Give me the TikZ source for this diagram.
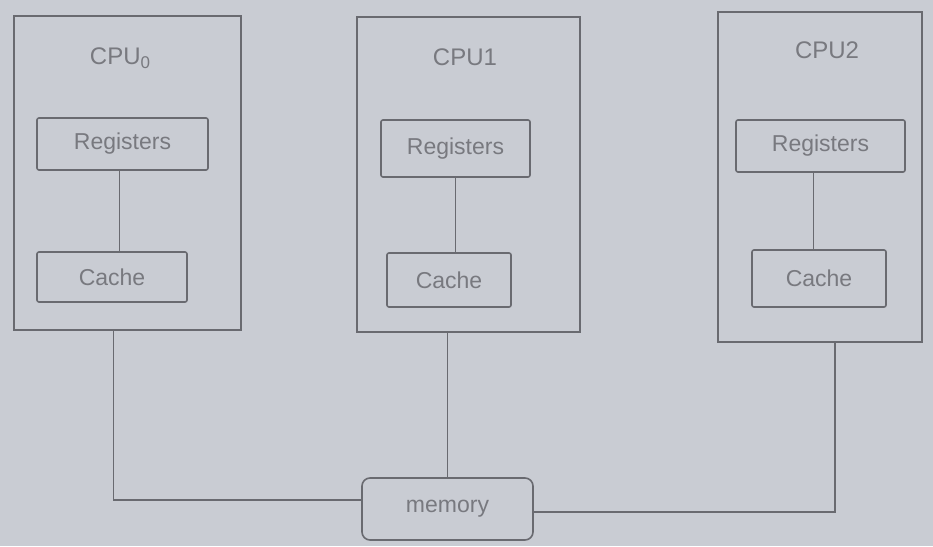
\documentclass[tikz,border=0pt]{standalone}
\usepackage{fontspec}
\setmainfont{Liberation Sans}
\definecolor{paper}{RGB}{201,204,211}
\definecolor{pencil}{RGB}{105,106,112}
\definecolor{ptext}{RGB}{120,121,127}
\begin{document}
\begin{tikzpicture}[x=1pt,y=-1pt,
  box/.style={draw=pencil,line width=1.6pt,rectangle,inner sep=0pt},
  cpubox/.style={box},
  inbox/.style={box,rounded corners=2pt,text=ptext,font=\fontsize{23}{27}\selectfont},
  lbl/.style={text=ptext,font=\fontsize{24}{28}\selectfont},
  wire/.style={draw=pencil,line width=1.4pt}]
\fill[paper] (0,0) rectangle (933,546);
\useasboundingbox (0,0) rectangle (933,546);
% CPU boxes
\node[cpubox,minimum width=227pt,minimum height=314pt] (cpu0) at (127.5,173) {};
\node[cpubox,minimum width=223pt,minimum height=315pt] (cpu1) at (468.5,174.5) {};
\node[cpubox,minimum width=204pt,minimum height=330pt] (cpu2) at (820,177) {};
% labels
\node[lbl] (l0) at (120,58) {CPU\raisebox{-4pt}{\fontsize{17}{20}\selectfont 0}};
\node[lbl] (l1) at (465,57) {CPU1};
\node[lbl] (l2) at (827,50) {CPU2};
% registers
\node[inbox,minimum width=171pt,minimum height=52pt] (reg0) at (122.5,144) {Registers};
\node[inbox,minimum width=149pt,minimum height=57pt] (reg1) at (455.5,148.5) {Registers};
\node[inbox,minimum width=169pt,minimum height=52pt] (reg2) at (820.5,146) {Registers};
% caches
\node[inbox,minimum width=150pt,minimum height=50pt] (cache0) at (112,277) {Cache};
\node[inbox,minimum width=124pt,minimum height=54pt] (cache1) at (449,280) {Cache};
\node[inbox,minimum width=134pt,minimum height=57pt] (cache2) at (819,278.5) {Cache};
% memory
\node[inbox,rounded corners=8pt,minimum width=171pt,minimum height=62pt] (mem) at (447.5,509) {memory};
% register-cache links
\draw[wire] ([xshift=-3pt]reg0.south) -- ([xshift=-3pt]reg0.south |- cache0.north);
\draw[wire] (reg1.south) -- (reg1.south |- cache1.north);
\draw[wire] ([xshift=-7pt]reg2.south) -- ([xshift=-7pt]reg2.south |- cache2.north);
% bus
\draw[wire] ([xshift=-14pt]cpu0.south) |- ([yshift=9pt]mem.west);
\draw[wire] (mem.north) -- (mem.north |- cpu1.south);
\draw[wire] ([xshift=15pt]cpu2.south) |- ([yshift=-3pt]mem.east);
\end{tikzpicture}
\end{document}
